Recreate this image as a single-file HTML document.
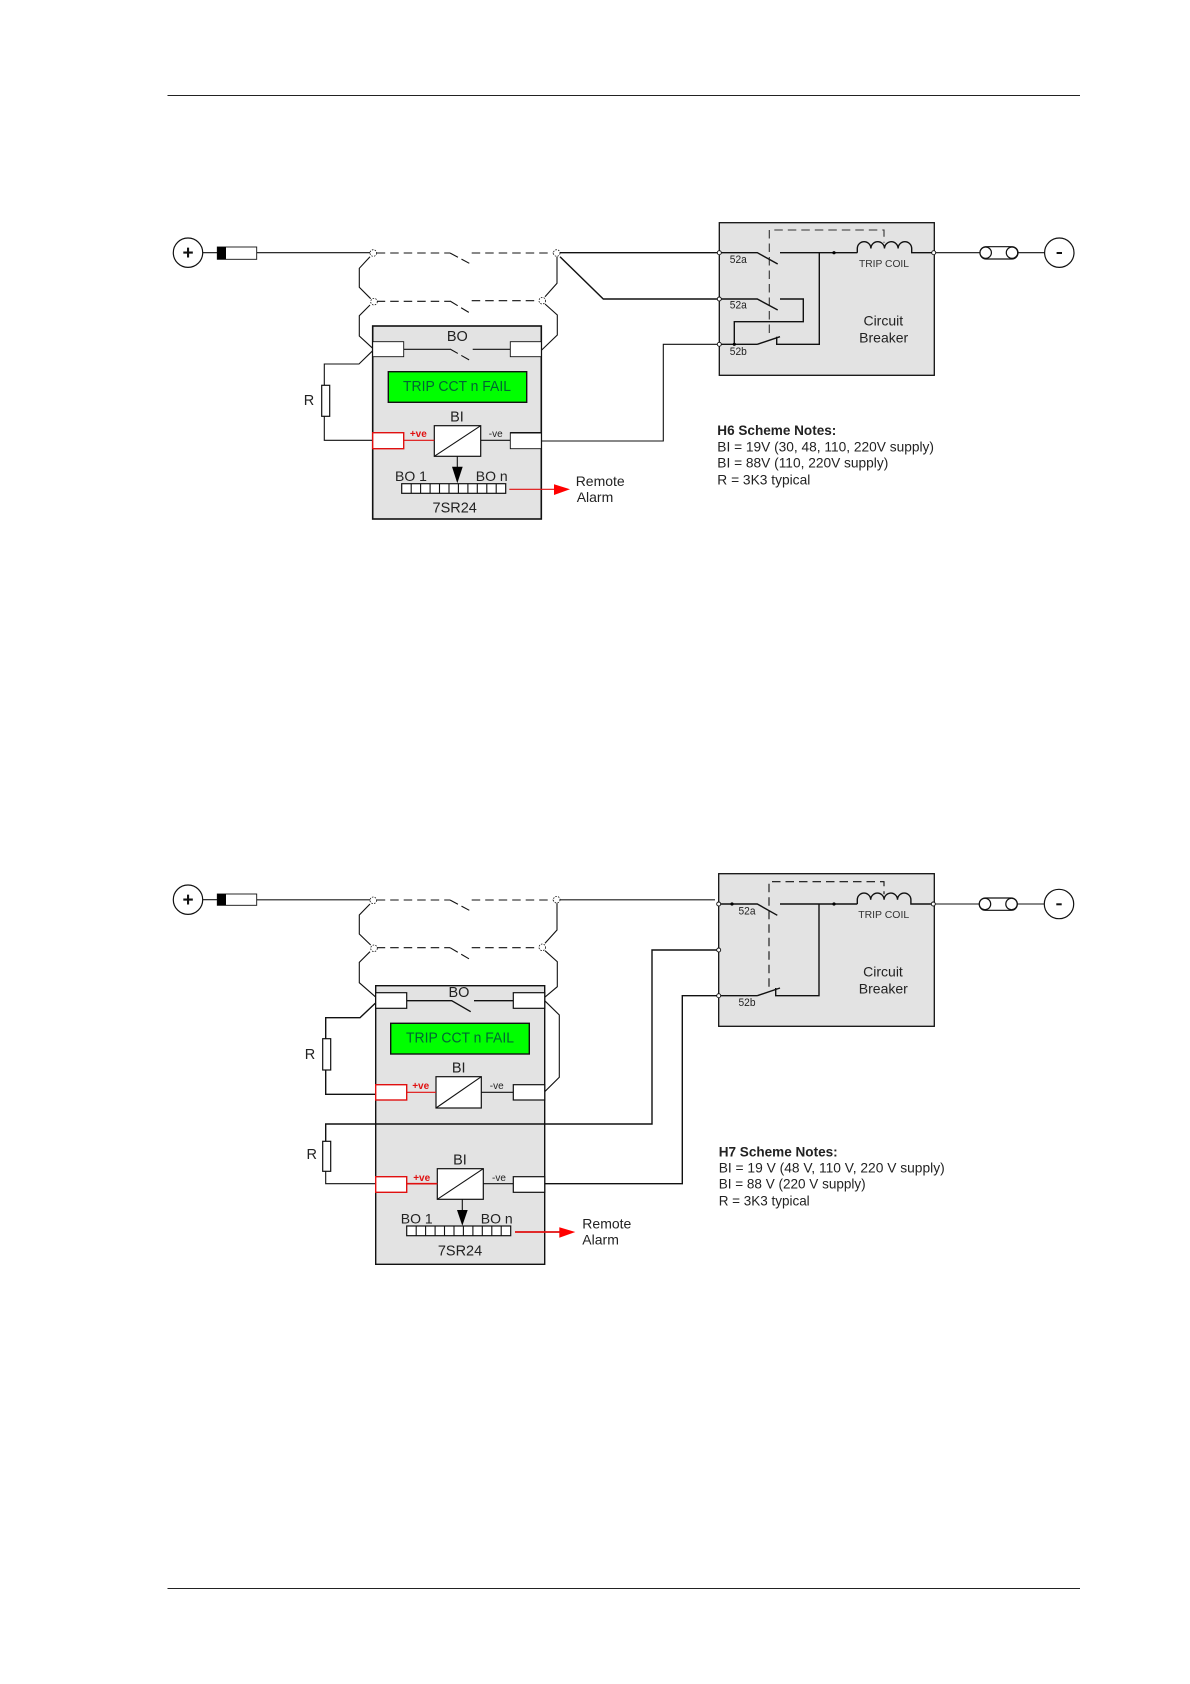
<!DOCTYPE html>
<html><head><meta charset="utf-8"><style>
html,body{margin:0;padding:0;background:#fff}
svg{display:block}
text{font-family:"Liberation Sans",Arial,sans-serif;fill:#222;dominant-baseline:central}
.m{text-anchor:middle}
.w{fill:none;stroke:#111;stroke-width:1.1}
.t{fill:none;stroke:#111;stroke-width:1.4}
.d{fill:none;stroke:#111;stroke-width:1.1;stroke-dasharray:8.5 5}
.s{fill:none;stroke:#111;stroke-width:1.1;stroke-dasharray:9 4 9}
.n{fill:#fff;stroke:#111;stroke-width:.8;stroke-dasharray:1.6 1.2}
.o{fill:#fff;stroke:#111;stroke-width:.9}
.b{fill:#e3e3e3;stroke:#111}
.k{fill:#fff;stroke:#111;stroke-width:1.2}
.r{fill:#fff;stroke:#e01010;stroke-width:1.4}
.g{fill:#0f0;stroke:#111;stroke-width:1.4}
.c{fill:#fff;stroke:#111;stroke-width:1.2}
.rl{fill:none;stroke:#e01010;stroke-width:1.1}
</style></head><body>
<svg width="1190" height="1684" viewBox="0 0 1190 1684" xmlns="http://www.w3.org/2000/svg">
<rect width="1190" height="1684" fill="#fff"/>
<path d="M167.5 95.5H1080M167.5 1588.5H1080" stroke="#222" stroke-width="1" fill="none"/>

<!-- ===== H6 ===== -->
<circle cx="188" cy="252.7" r="14.7" class="c"/>
<text x="188" y="253.5" class="m" font-size="19" font-weight="bold" style="fill:#111">+</text>
<path class="w" d="M202.7 252.7H217M256.7 252.7H370"/>
<rect x="217.3" y="247" width="39.4" height="12.3" class="o"/>
<rect x="217.3" y="247" width="8.7" height="12.3" fill="#000"/>
<path class="d" d="M376.7 253H450M471.7 253H553.3"/>
<path class="s" d="M450 253L469.3 263.3"/>
<path class="d" d="M376.7 301.3H450M471.7 300.7H538.3"/>
<path class="s" d="M450 301L469.3 312.7"/>
<path class="w" d="M370 256.7L359.3 268.3V287.3L370.7 298.7M370 305L359.3 315.7V336L372.7 348.3"/>
<path class="w" d="M557 256.7V283.3L545 296.7M545 304L557.3 315V335L541.7 350"/>
<path class="t" d="M559.5 252.7H719M560 256.7L603.3 299H719"/>
<circle cx="373.3" cy="253" r="3.3" class="n"/>
<circle cx="556.7" cy="253" r="3.3" class="n"/>
<circle cx="374" cy="301.7" r="3.3" class="n"/>
<circle cx="542.3" cy="300.7" r="3.3" class="n"/>

<rect x="372.7" y="326" width="168.6" height="193" class="b" stroke-width="1.6"/>
<rect x="372.7" y="341.7" width="31" height="15" class="o"/>
<rect x="510.3" y="341.7" width="31" height="15" class="o"/>
<path class="w" d="M403.7 349.3H450M472.7 349.3H510.3"/>
<path class="s" d="M450 349L469.3 360"/>
<text x="457.3" y="337" class="m" font-size="14.5">BO</text>
<path class="w" d="M372.7 350.7L359 364H324.3V385.3M324.3 416.3V440.3H372.7"/>
<rect x="321.7" y="385.3" width="8" height="31" class="k"/>
<text x="309" y="401" class="m" font-size="14.5">R</text>
<rect x="388.3" y="371.7" width="138.4" height="30.6" class="g"/>
<text x="457" y="387" class="m" font-size="14.5" textLength="108" lengthAdjust="spacingAndGlyphs" style="fill:#063">TRIP CCT n FAIL</text>
<text x="457" y="417.3" class="m" font-size="14.5">BI</text>
<rect x="434.3" y="425.7" width="46.4" height="30.6" class="k"/>
<path class="w" d="M434.3 456.3L480.7 425.7" stroke-width="1.3"/>
<rect x="372.7" y="432.7" width="31" height="16" class="r"/>
<rect x="510.3" y="432.7" width="31" height="16" class="o"/>
<path d="M510.3 432.7H541.3" stroke="#111" stroke-width="1.5"/>
<path class="rl" d="M403.7 440.3H434.3"/>
<path class="w" d="M480.7 440.3H510.3"/>
<text x="418.3" y="434.7" class="m" font-size="10" font-weight="bold" style="fill:#e01010">+ve</text>
<text x="495.7" y="434.7" class="m" font-size="10">-ve</text>
<path class="w" d="M541.3 441H663.3V344.3H719"/>
<path class="w" d="M457.3 456.3V467"/>
<path d="M452 466.7H462.7L457.3 483.3Z" fill="#000"/>
<text x="411" y="476" class="m" font-size="14">BO 1</text>
<text x="491.7" y="476" class="m" font-size="14">BO n</text>
<rect x="401.7" y="483.7" width="104" height="9.6" class="k"/>
<path class="w" d="M411.2 483.7v9.6M420.6 483.7v9.6M430.1 483.7v9.6M439.5 483.7v9.6M449 483.7v9.6M458.4 483.7v9.6M467.9 483.7v9.6M477.3 483.7v9.6M486.8 483.7v9.6M496.2 483.7v9.6"/>
<text x="454.7" y="508.3" class="m" font-size="14.5">7SR24</text>
<path class="rl" d="M509.3 489.3H555"/>
<path d="M554 484.3V495L570 489.3Z" fill="#f00"/>
<text x="575.7" y="481" font-size="14">Remote</text>
<text x="576.7" y="497" font-size="14">Alarm</text>

<!-- H6 CB -->
<rect x="719.3" y="222.7" width="215" height="152.6" class="b" stroke-width="1.3"/>
<path class="d" style="stroke:#333" d="M769.3 333V230H884V242.7"/>
<path class="t" d="M719 252.7H757.3L777.7 264M780 252.7H857.3"/>
<path class="t" d="M857.3 252.7V248.5a6.8 6.8 0 0 1 13.6 0a6.8 6.8 0 0 1 13.6 0a6.8 6.8 0 0 1 13.6 0a6.8 6.8 0 0 1 13.6 0V252.7H934"/>
<path class="w" d="M934 252.7H980"/>
<path class="t" d="M819.3 252.7V344.3H776.7V336.7M757.3 344.3L780 336.7M719 344.3H757.3"/>
<path class="t" d="M719 299H757.3L777.7 310M780 299H803.3V321.7H734.3V344.3"/>
<circle cx="834" cy="252.7" r="1.6" fill="#000"/>
<circle cx="734.3" cy="344.3" r="1.6" fill="#000"/>
<circle cx="719.3" cy="252.7" r="2" class="o"/>
<circle cx="719.3" cy="299" r="2" class="o"/>
<circle cx="719.3" cy="344.3" r="2" class="o"/>
<circle cx="933.7" cy="252.7" r="2" class="o"/>
<text x="738.3" y="260" class="m" font-size="11" textLength="17" lengthAdjust="spacingAndGlyphs">52a</text>
<text x="738.3" y="305.7" class="m" font-size="11" textLength="17" lengthAdjust="spacingAndGlyphs">52a</text>
<text x="738.3" y="352" class="m" font-size="11" textLength="17" lengthAdjust="spacingAndGlyphs">52b</text>
<text x="884" y="264" class="m" font-size="10.5" textLength="50" lengthAdjust="spacingAndGlyphs" style="fill:#333">TRIP COIL</text>
<text x="883.3" y="320.7" class="m" font-size="14">Circuit</text>
<text x="883.7" y="337.7" class="m" font-size="14">Breaker</text>
<rect x="980" y="246.7" width="38" height="12.3" rx="6" class="k"/>
<circle cx="985.7" cy="252.7" r="5.7" class="k"/>
<circle cx="1012" cy="252.7" r="5.7" class="k"/>
<path class="w" d="M1018 252.7H1045"/>
<circle cx="1059.3" cy="252.7" r="14.7" class="c"/>
<rect x="1056.6" y="252" width="5.4" height="2" fill="#111"/>
<text x="717.3" y="430" font-size="14" font-weight="bold" textLength="119" lengthAdjust="spacingAndGlyphs">H6 Scheme Notes:</text>
<text x="717.3" y="446.7" font-size="14" textLength="216.7" lengthAdjust="spacingAndGlyphs">BI = 19V (30, 48, 110, 220V supply)</text>
<text x="717.3" y="462.7" font-size="14" textLength="171" lengthAdjust="spacingAndGlyphs">BI = 88V (110, 220V supply)</text>
<text x="717.3" y="479.3" font-size="14" textLength="93" lengthAdjust="spacingAndGlyphs">R = 3K3 typical</text>

<!-- ===== H7 ===== -->
<circle cx="188" cy="899.7" r="14.7" class="c"/>
<text x="188" y="900.5" class="m" font-size="19" font-weight="bold" style="fill:#111">+</text>
<path class="w" d="M202.7 899.7H217"/>
<path d="M256.7 899.7H370M559.5 899.7H715" stroke="#555" stroke-width="1.5" fill="none"/>
<rect x="217.3" y="894" width="39.4" height="11.3" class="o"/>
<rect x="217.3" y="894" width="8.7" height="11.3" fill="#000"/>
<path class="d" d="M376.7 900H450M471.7 900H553.3"/>
<path class="s" d="M450 900L469.3 910.3"/>
<path class="d" d="M376.7 947.7H450M471.7 947.7H538.3"/>
<path class="s" d="M450 947.7L469.3 959"/>
<path class="w" d="M370 904L359.3 915V934L370.7 945M370 951.7L359.3 962.3V982.7L376 997.3"/>
<path class="w" d="M557 903.3V930L545 943.3M545 950.7L557.3 961.7V986.7L544.7 997.3"/>
<circle cx="373.3" cy="900.3" r="3.3" class="n"/>
<circle cx="556.7" cy="899.7" r="3.3" class="n"/>
<circle cx="374" cy="948.3" r="3.3" class="n"/>
<circle cx="542.3" cy="947.3" r="3.3" class="n"/>

<rect x="375.7" y="985.7" width="169" height="278.6" class="b" stroke-width="1.4"/>
<rect x="375.7" y="992.7" width="31" height="15.6" class="k"/>
<rect x="513.3" y="992.7" width="31.4" height="15.6" class="k"/>
<path class="t" d="M406.7 1000.7H451.7L470.7 1011.7M474 1000.7H513.3"/>
<text x="459" y="993" class="m" font-size="14.5">BO</text>
<path class="t" d="M375.3 1003.3L360 1017.7H325.7V1038.7M325.7 1070V1094.3H375.7"/>
<rect x="322.7" y="1038.7" width="8" height="31.3" class="k"/>
<text x="310" y="1055" class="m" font-size="14.5">R</text>
<rect x="390.7" y="1023.3" width="138.6" height="30.7" class="g"/>
<text x="460" y="1038.5" class="m" font-size="14.5" textLength="108" lengthAdjust="spacingAndGlyphs" style="fill:#063">TRIP CCT n FAIL</text>
<text x="458.7" y="1068.7" class="m" font-size="14.5">BI</text>
<rect x="436" y="1076.7" width="45.3" height="31.3" class="k"/>
<path class="w" d="M436 1108L481.3 1076.7" stroke-width="1.3"/>
<rect x="375.7" y="1084.7" width="31" height="15.3" class="r"/>
<rect x="513.3" y="1084.7" width="31.4" height="15.3" class="k"/>
<path class="rl" d="M406.7 1092.3H436"/>
<path class="w" d="M481.3 1092.3H513.3"/>
<text x="420.7" y="1086.7" class="m" font-size="10" font-weight="bold" style="fill:#e01010">+ve</text>
<text x="496.7" y="1086.7" class="m" font-size="10">-ve</text>
<path class="w" d="M544.7 1000.7L559.3 1015V1077.3L544.7 1091.7"/>
<path class="t" d="M325.7 1141.3V1124H652V950H732.3V904"/>
<rect x="322.7" y="1141.3" width="8" height="30" class="k"/>
<path class="w" d="M325.7 1171.3V1183.7H375.7"/>
<text x="311.7" y="1155" class="m" font-size="14.5">R</text>
<text x="460" y="1160.7" class="m" font-size="14.5">BI</text>
<rect x="437.3" y="1168.7" width="46" height="30.6" class="k"/>
<path class="w" d="M437.3 1199.3L483.3 1168.7" stroke-width="1.3"/>
<rect x="375.7" y="1176.7" width="31" height="15.6" class="r"/>
<rect x="513.3" y="1176.7" width="31.4" height="15.6" class="k"/>
<path d="M406.7 1183.7H437.3" stroke="#e01010" stroke-width="1.6" fill="none"/>
<path class="w" d="M483.3 1183.7H513.3"/>
<text x="421.7" y="1178.3" class="m" font-size="10" font-weight="bold" style="fill:#e01010">+ve</text>
<text x="499" y="1178.3" class="m" font-size="10">-ve</text>
<path class="t" d="M544.7 1183.7H682.3V995.7H718.7"/>
<path class="w" d="M462.3 1199.3V1211"/>
<path d="M457 1210H467.7L462.3 1225.7Z" fill="#000"/>
<text x="416.7" y="1218.7" class="m" font-size="14">BO 1</text>
<text x="496.7" y="1218.7" class="m" font-size="14">BO n</text>
<rect x="406.7" y="1226" width="104" height="9.7" class="k"/>
<path class="w" d="M416.2 1226v9.7M425.6 1226v9.7M435.1 1226v9.7M444.5 1226v9.7M454 1226v9.7M463.4 1226v9.7M472.9 1226v9.7M482.3 1226v9.7M491.8 1226v9.7M501.2 1226v9.7"/>
<text x="460" y="1251.3" class="m" font-size="14.5">7SR24</text>
<path d="M515 1232H560" stroke="#e01010" stroke-width="1.8" fill="none"/>
<path d="M559.3 1227.3V1237.7L575.3 1232Z" fill="#f00"/>
<text x="582.3" y="1223.3" font-size="14">Remote</text>
<text x="582.3" y="1239.3" font-size="14">Alarm</text>

<!-- H7 CB -->
<rect x="718.7" y="873.7" width="215.6" height="152.6" class="b" stroke-width="1.3"/>
<path class="d" d="M769 986.7V881.7H884V894.3"/>
<path class="t" d="M718.7 904H757.3L777.3 915.3M780 904H857.3"/>
<path class="t" d="M857.3 904V899.8a6.7 6.7 0 0 1 13.4 0a6.7 6.7 0 0 1 13.4 0a6.7 6.7 0 0 1 13.4 0a6.7 6.7 0 0 1 13.4 0V904H934"/>
<path class="w" d="M934 904H979.3"/>
<path class="t" d="M819 904V995.7H775.7V988M757.3 995.7L780 988M718.7 995.7H757.3"/>
<circle cx="834" cy="904" r="1.6" fill="#000"/>
<circle cx="732" cy="904" r="1.6" fill="#000"/>
<circle cx="718.7" cy="904" r="2" class="o"/>
<circle cx="718.7" cy="950" r="2" class="o"/>
<circle cx="718.7" cy="995.7" r="2" class="o"/>
<circle cx="933.3" cy="904" r="2" class="o"/>
<text x="747" y="911.3" class="m" font-size="11" textLength="17" lengthAdjust="spacingAndGlyphs">52a</text>
<text x="747" y="1003" class="m" font-size="11" textLength="17" lengthAdjust="spacingAndGlyphs">52b</text>
<text x="883.7" y="915" class="m" font-size="10.5" textLength="51" lengthAdjust="spacingAndGlyphs" style="fill:#333">TRIP COIL</text>
<text x="883" y="971.7" class="m" font-size="14">Circuit</text>
<text x="883.3" y="988.7" class="m" font-size="14">Breaker</text>
<rect x="979.3" y="898" width="38" height="12.3" rx="6" class="k"/>
<circle cx="985" cy="904" r="5.7" class="k"/>
<circle cx="1011.5" cy="904" r="5.7" class="k"/>
<path class="w" d="M1017.3 904H1044.3"/>
<circle cx="1059" cy="904" r="14.7" class="c"/>
<rect x="1056.3" y="903.3" width="5.4" height="2" fill="#111"/>
<text x="718.7" y="1151.7" font-size="14" font-weight="bold" textLength="119" lengthAdjust="spacingAndGlyphs">H7 Scheme Notes:</text>
<text x="718.7" y="1167.3" font-size="14" textLength="226" lengthAdjust="spacingAndGlyphs">BI = 19 V (48 V, 110 V, 220 V supply)</text>
<text x="718.7" y="1183.3" font-size="14" textLength="147" lengthAdjust="spacingAndGlyphs">BI = 88 V (220 V supply)</text>
<text x="718.7" y="1200.7" font-size="14" textLength="91" lengthAdjust="spacingAndGlyphs">R = 3K3 typical</text>
</svg>
</body></html>
